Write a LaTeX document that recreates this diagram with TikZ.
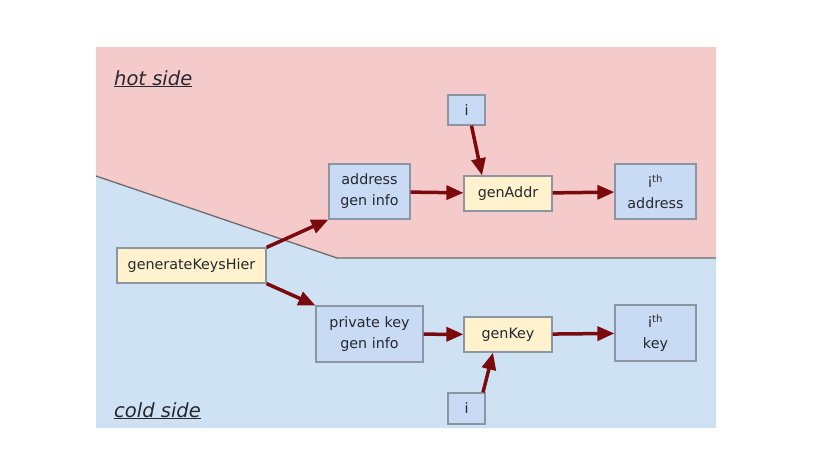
\documentclass[tikz,border=0pt]{standalone}
\usepackage{fontspec}
\setmainfont{DejaVu Sans}
\usetikzlibrary{arrows.meta}
\definecolor{hotpink}{HTML}{F4CACA}
\definecolor{coldblue}{HTML}{CFE2F3}
\definecolor{boxblue}{HTML}{C9DAF5}
\definecolor{boxyellow}{HTML}{FFF2CC}
\definecolor{boxline}{HTML}{8C96A2}
\definecolor{flow}{HTML}{7A0A0E}
\definecolor{ink}{HTML}{262830}
\begin{document}
\begin{tikzpicture}[x=1pt,y=-1pt,
    box/.style={draw=boxline,line width=1.2pt,fill=boxblue,text=ink,align=center,
      inner sep=0pt,font=\fontsize{14.3}{21}\selectfont},
    fn/.style={box,fill=boxyellow},
    side/.style={anchor=base west,inner sep=0pt,text=ink,
      font=\fontsize{19.5}{23}\selectfont\itshape}]
  \useasboundingbox (0,0) rectangle (830,467);
  \fill[hotpink] (96,47) -- (716,47) -- (716,258) -- (337,258) -- (96,176) -- cycle;
  \fill[coldblue] (96,176) -- (337,258) -- (716,258) -- (716,428) -- (96,428) -- cycle;
  \draw[gray!85!black,line width=1.3pt] (96,176) -- (337,258) -- (716,258);
  \draw
    (114,85) node[side] (hot) {\underline{hot side}}
    (114,417) node[side] (cold) {\underline{cold side}}
    (191.5,265.5) node[fn,minimum width=149pt,minimum height=35pt] (generateKeysHier) {generateKeysHier}
    (369.5,191.5) node[box,minimum width=81pt,minimum height=55pt] (addrInfo) {address\\gen info}
    (466.5,110) node[box,minimum width=37pt,minimum height=30pt] (iAddr) {i}
    (508,193.5) node[fn,minimum width=88pt,minimum height=35pt] (genAddr) {genAddr}
    (655.5,191.5) node[box,minimum width=81pt,minimum height=55pt] (ithAddr) {i\textsuperscript{th}\\address}
    (369.5,334) node[box,minimum width=107pt,minimum height=56pt] (keyInfo) {private key\\gen info}
    (508,334.5) node[fn,minimum width=88pt,minimum height=35pt] (genKey) {genKey}
    (655.5,333) node[box,minimum width=81pt,minimum height=56pt] (ithKey) {i\textsuperscript{th}\\key}
    (466.5,408.5) node[box,minimum width=37pt,minimum height=31pt] (iKey) {i};
  \begin{scope}[color=flow,line width=3.5pt,-{Triangle[length=17pt,width=14pt]}]
    \draw (generateKeysHier.north east) to (addrInfo.south west);
    \draw (generateKeysHier.south east) to (keyInfo.north west);
    \draw (addrInfo) to (genAddr);
    \draw ([xshift=5pt]iAddr.south) to ([xshift=-26pt]genAddr.north);
    \draw (genAddr) to (ithAddr);
    \draw (keyInfo) to (genKey);
    \draw ([xshift=16.5pt]iKey.north) to ([xshift=-15pt]genKey.south);
    \draw (genKey) to (ithKey);
  \end{scope}
\end{tikzpicture}
\end{document}
